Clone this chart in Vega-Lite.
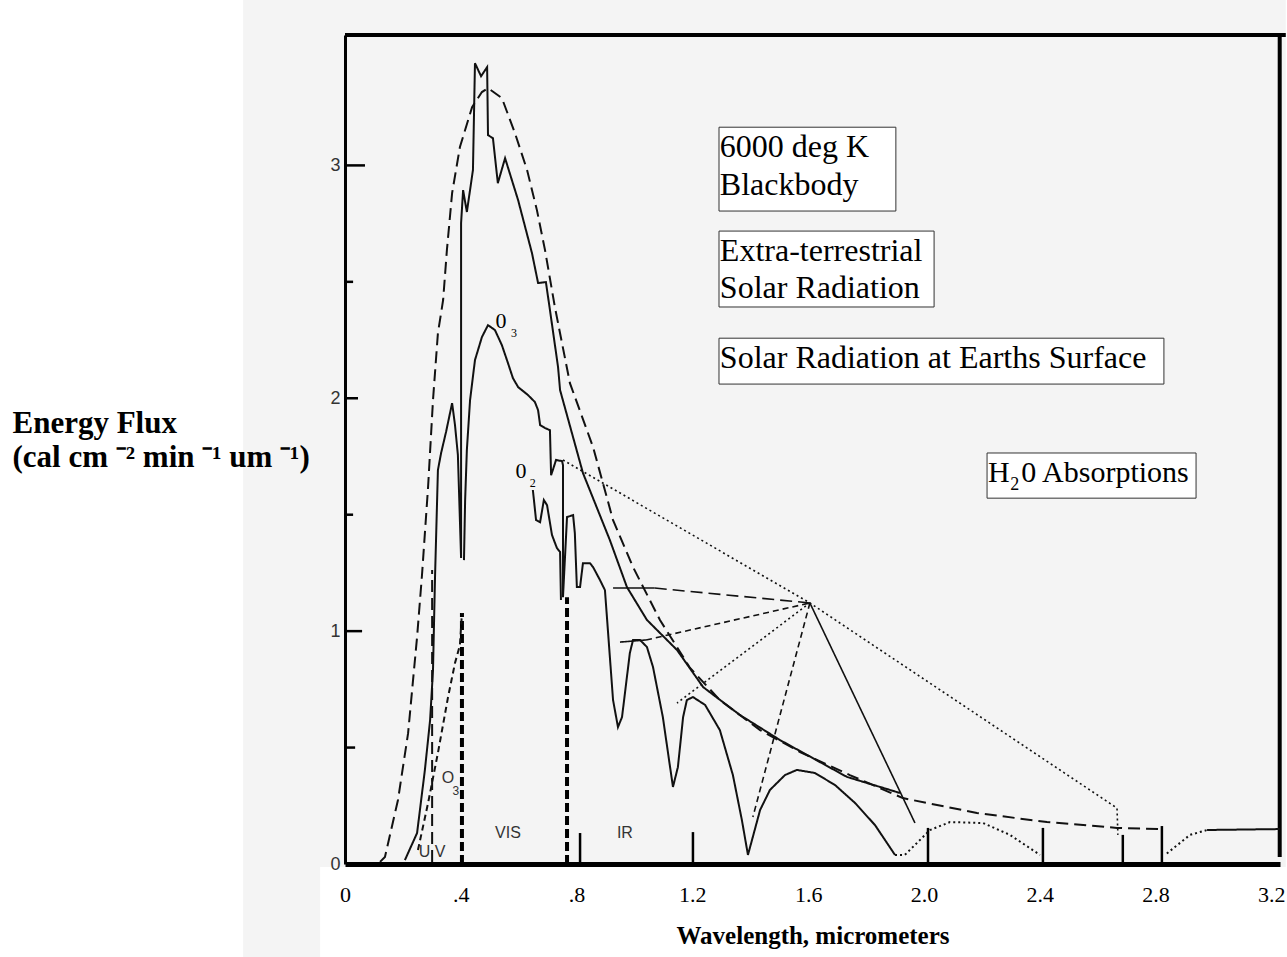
{
  "$schema": "https://vega.github.io/schema/vega-lite/v6.json",
  "width": 935,
  "height": 829,
  "autosize": {"type": "none"},
  "padding": {"left": 345, "top": 35, "right": 7, "bottom": 93},
  "background": "white",
  "config": {"view": {"stroke": null}, "font": "Liberation Serif"},
  "datasets": {
    "paper": [
      {"x": -0.352, "x2": 3.25, "y": -0.013, "y2": 3.71},
      {"x": -0.352, "x2": -0.086, "y": -0.41, "y2": -0.013}
    ],
    "frame": [
      {"x": 0, "x2": 3.25, "y": 3.56, "y2": 3.56},
      {"x": 3.229, "x2": 3.229, "y": 0.03, "y2": 3.56}
    ],
    "yticks": [
      {"x": 0, "y": 0.5, "x2": 0.035, "y2": 0.5}, {"x": 0, "y": 1, "x2": 0.059, "y2": 1}, {"x": 0, "y": 1.5, "x2": 0.028, "y2": 1.5},
      {"x": 0, "y": 2, "x2": 0.045, "y2": 2}, {"x": 0, "y": 2.5, "x2": 0.028, "y2": 2.5}, {"x": 0, "y": 3, "x2": 0.069, "y2": 3},
      {"x": 0.812, "y": 0, "x2": 0.812, "y2": 0.133}, {"x": 1.202, "y": 0, "x2": 1.202, "y2": 0.137}, {"x": 2.014, "y": 0, "x2": 2.014, "y2": 0.155},
      {"x": 2.411, "y": 0, "x2": 2.411, "y2": 0.155}, {"x": 2.687, "y": 0, "x2": 2.687, "y2": 0.125}, {"x": 2.822, "y": 0, "x2": 2.822, "y2": 0.163}
    ],
    "bounds": [
      {"x": 0.404, "y": 0, "x2": 0.404, "y2": 1.078},
      {"x": 0.767, "y": 0, "x2": 0.767, "y2": 1.146}
    ],
    "curves": [
      {"s": "bb", "d": "longdash", "x": 0.121, "y": 0.009},
      {"s": "bb", "d": "longdash", "x": 0.138, "y": 0.030},
      {"s": "bb", "d": "longdash", "x": 0.183, "y": 0.275},
      {"s": "bb", "d": "longdash", "x": 0.218, "y": 0.562},
      {"s": "bb", "d": "longdash", "x": 0.249, "y": 0.975},
      {"s": "bb", "d": "longdash", "x": 0.266, "y": 1.241},
      {"s": "bb", "d": "longdash", "x": 0.287, "y": 1.619},
      {"s": "bb", "d": "longdash", "x": 0.304, "y": 1.992},
      {"s": "bb", "d": "longdash", "x": 0.321, "y": 2.280},
      {"s": "bb", "d": "longdash", "x": 0.339, "y": 2.422},
      {"s": "bb", "d": "longdash", "x": 0.352, "y": 2.636},
      {"s": "bb", "d": "longdash", "x": 0.370, "y": 2.881},
      {"s": "bb", "d": "longdash", "x": 0.397, "y": 3.079},
      {"s": "bb", "d": "longdash", "x": 0.439, "y": 3.250},
      {"s": "bb", "d": "longdash", "x": 0.473, "y": 3.315},
      {"s": "bb", "d": "longdash", "x": 0.494, "y": 3.332},
      {"s": "bb", "d": "longdash", "x": 0.542, "y": 3.289},
      {"s": "bb", "d": "longdash", "x": 0.587, "y": 3.139},
      {"s": "bb", "d": "longdash", "x": 0.629, "y": 2.980},
      {"s": "bb", "d": "longdash", "x": 0.663, "y": 2.808},
      {"s": "bb", "d": "longdash", "x": 0.691, "y": 2.636},
      {"s": "bb", "d": "longdash", "x": 0.725, "y": 2.392},
      {"s": "bb", "d": "longdash", "x": 0.777, "y": 2.065},
      {"s": "bb", "d": "longdash", "x": 0.857, "y": 1.790},
      {"s": "bb", "d": "longdash", "x": 0.926, "y": 1.477},
      {"s": "bb", "d": "longdash", "x": 0.995, "y": 1.275},
      {"s": "bb", "d": "longdash", "x": 1.088, "y": 1.048},
      {"s": "bb", "d": "longdash", "x": 1.192, "y": 0.842},
      {"s": "bb", "d": "longdash", "x": 1.295, "y": 0.704},
      {"s": "bb", "d": "longdash", "x": 1.434, "y": 0.575},
      {"s": "bb", "d": "longdash", "x": 1.572, "y": 0.481},
      {"s": "bb", "d": "longdash", "x": 1.744, "y": 0.382},
      {"s": "bb", "d": "longdash", "x": 1.927, "y": 0.283},
      {"s": "bb", "d": "longdash", "x": 2.183, "y": 0.219},
      {"s": "bb", "d": "longdash", "x": 2.425, "y": 0.180},
      {"s": "bb", "d": "longdash", "x": 2.667, "y": 0.155},
      {"s": "bb", "d": "longdash", "x": 2.815, "y": 0.150},

      {"s": "et", "d": "solid", "x": 0.207, "y": 0.017},
      {"s": "et", "d": "solid", "x": 0.249, "y": 0.133},
      {"s": "et", "d": "solid", "x": 0.276, "y": 0.404},
      {"s": "et", "d": "solid", "x": 0.294, "y": 0.618},
      {"s": "et", "d": "solid", "x": 0.304, "y": 0.833},
      {"s": "et", "d": "solid", "x": 0.311, "y": 1.232},
      {"s": "et", "d": "solid", "x": 0.321, "y": 1.692},
      {"s": "et", "d": "solid", "x": 0.332, "y": 1.765},
      {"s": "et", "d": "solid", "x": 0.349, "y": 1.855},
      {"s": "et", "d": "solid", "x": 0.370, "y": 1.979},
      {"s": "et", "d": "solid", "x": 0.380, "y": 1.885},
      {"s": "et", "d": "solid", "x": 0.390, "y": 1.756},
      {"s": "et", "d": "solid", "x": 0.401, "y": 1.314},
      {"s": "et", "d": "solid", "x": 0.401, "y": 2.752},
      {"s": "et", "d": "solid", "x": 0.408, "y": 2.894},
      {"s": "et", "d": "solid", "x": 0.421, "y": 2.800},
      {"s": "et", "d": "solid", "x": 0.442, "y": 2.980},
      {"s": "et", "d": "solid", "x": 0.449, "y": 3.439},
      {"s": "et", "d": "solid", "x": 0.470, "y": 3.383},
      {"s": "et", "d": "solid", "x": 0.491, "y": 3.422},
      {"s": "et", "d": "solid", "x": 0.494, "y": 3.130},
      {"s": "et", "d": "solid", "x": 0.511, "y": 3.117},
      {"s": "et", "d": "solid", "x": 0.528, "y": 2.924},
      {"s": "et", "d": "solid", "x": 0.553, "y": 3.031},
      {"s": "et", "d": "solid", "x": 0.598, "y": 2.851},
      {"s": "et", "d": "solid", "x": 0.646, "y": 2.623},
      {"s": "et", "d": "solid", "x": 0.667, "y": 2.495},
      {"s": "et", "d": "solid", "x": 0.694, "y": 2.499},
      {"s": "et", "d": "solid", "x": 0.708, "y": 2.379},
      {"s": "et", "d": "solid", "x": 0.736, "y": 2.134},
      {"s": "et", "d": "solid", "x": 0.743, "y": 2.035},
      {"s": "et", "d": "solid", "x": 0.822, "y": 1.679},
      {"s": "et", "d": "solid", "x": 0.915, "y": 1.391},
      {"s": "et", "d": "solid", "x": 0.974, "y": 1.189},
      {"s": "et", "d": "solid", "x": 1.043, "y": 1.048},
      {"s": "et", "d": "solid", "x": 1.147, "y": 0.919},
      {"s": "et", "d": "solid", "x": 1.237, "y": 0.760},
      {"s": "et", "d": "solid", "x": 1.364, "y": 0.640},
      {"s": "et", "d": "solid", "x": 1.503, "y": 0.532},
      {"s": "et", "d": "solid", "x": 1.734, "y": 0.374},
      {"s": "et", "d": "solid", "x": 1.917, "y": 0.305},

      {"s": "uvline", "d": "longdash", "x": 0.301, "y": 0.009},
      {"s": "uvline", "d": "longdash", "x": 0.301, "y": 1.262},

      {"s": "surfuv", "d": "dash", "x": 0.252, "y": 0.060},
      {"s": "surfuv", "d": "dash", "x": 0.287, "y": 0.262},
      {"s": "surfuv", "d": "dash", "x": 0.321, "y": 0.477},
      {"s": "surfuv", "d": "dash", "x": 0.356, "y": 0.717},
      {"s": "surfuv", "d": "dash", "x": 0.380, "y": 0.863},
      {"s": "surfuv", "d": "dash", "x": 0.397, "y": 0.940},
      {"s": "surfuv", "d": "dash", "x": 0.404, "y": 1.078},

      {"s": "surf", "d": "solid", "x": 0.411, "y": 1.305},
      {"s": "surf", "d": "solid", "x": 0.415, "y": 1.563},
      {"s": "surf", "d": "solid", "x": 0.421, "y": 1.778},
      {"s": "surf", "d": "solid", "x": 0.432, "y": 1.992},
      {"s": "surf", "d": "solid", "x": 0.449, "y": 2.164},
      {"s": "surf", "d": "solid", "x": 0.473, "y": 2.263},
      {"s": "surf", "d": "solid", "x": 0.494, "y": 2.314},
      {"s": "surf", "d": "solid", "x": 0.518, "y": 2.293},
      {"s": "surf", "d": "solid", "x": 0.542, "y": 2.228},
      {"s": "surf", "d": "solid", "x": 0.563, "y": 2.151},
      {"s": "surf", "d": "solid", "x": 0.580, "y": 2.087},
      {"s": "surf", "d": "solid", "x": 0.598, "y": 2.048},
      {"s": "surf", "d": "solid", "x": 0.632, "y": 2.014},
      {"s": "surf", "d": "solid", "x": 0.656, "y": 1.984},
      {"s": "surf", "d": "solid", "x": 0.667, "y": 1.949},
      {"s": "surf", "d": "solid", "x": 0.674, "y": 1.885},
      {"s": "surf", "d": "solid", "x": 0.691, "y": 1.872},
      {"s": "surf", "d": "solid", "x": 0.708, "y": 1.863},
      {"s": "surf", "d": "solid", "x": 0.712, "y": 1.670},
      {"s": "surf", "d": "solid", "x": 0.718, "y": 1.692},
      {"s": "surf", "d": "solid", "x": 0.729, "y": 1.735},
      {"s": "surf", "d": "solid", "x": 0.750, "y": 1.730},
      {"s": "surf", "d": "solid", "x": 0.753, "y": 1.713},
      {"s": "surf", "d": "solid", "x": 0.753, "y": 1.146},
      {"s": "surf", "d": "solid", "x": 0.767, "y": 1.490},
      {"s": "surf", "d": "solid", "x": 0.788, "y": 1.498},
      {"s": "surf", "d": "solid", "x": 0.794, "y": 1.421},
      {"s": "surf", "d": "solid", "x": 0.801, "y": 1.189},
      {"s": "surf", "d": "solid", "x": 0.812, "y": 1.189},
      {"s": "surf", "d": "solid", "x": 0.822, "y": 1.292},
      {"s": "surf", "d": "solid", "x": 0.846, "y": 1.292},
      {"s": "surf", "d": "solid", "x": 0.857, "y": 1.275},
      {"s": "surf", "d": "solid", "x": 0.881, "y": 1.219},
      {"s": "surf", "d": "solid", "x": 0.898, "y": 1.176},
      {"s": "surf", "d": "solid", "x": 0.926, "y": 0.704},
      {"s": "surf", "d": "solid", "x": 0.943, "y": 0.588},
      {"s": "surf", "d": "solid", "x": 0.957, "y": 0.631},
      {"s": "surf", "d": "solid", "x": 0.984, "y": 0.906},
      {"s": "surf", "d": "solid", "x": 0.995, "y": 0.962},
      {"s": "surf", "d": "solid", "x": 1.019, "y": 0.962},
      {"s": "surf", "d": "solid", "x": 1.043, "y": 0.932},
      {"s": "surf", "d": "solid", "x": 1.064, "y": 0.846},
      {"s": "surf", "d": "solid", "x": 1.098, "y": 0.631},
      {"s": "surf", "d": "solid", "x": 1.123, "y": 0.416},
      {"s": "surf", "d": "solid", "x": 1.133, "y": 0.331},
      {"s": "surf", "d": "solid", "x": 1.150, "y": 0.416},
      {"s": "surf", "d": "solid", "x": 1.168, "y": 0.631},
      {"s": "surf", "d": "solid", "x": 1.181, "y": 0.704},
      {"s": "surf", "d": "solid", "x": 1.202, "y": 0.717},
      {"s": "surf", "d": "solid", "x": 1.244, "y": 0.683},
      {"s": "surf", "d": "solid", "x": 1.295, "y": 0.575},
      {"s": "surf", "d": "solid", "x": 1.340, "y": 0.382},
      {"s": "surf", "d": "solid", "x": 1.371, "y": 0.189},
      {"s": "surf", "d": "solid", "x": 1.392, "y": 0.039},
      {"s": "surf", "d": "solid", "x": 1.406, "y": 0.103},
      {"s": "surf", "d": "solid", "x": 1.434, "y": 0.232},
      {"s": "surf", "d": "solid", "x": 1.468, "y": 0.318},
      {"s": "surf", "d": "solid", "x": 1.520, "y": 0.382},
      {"s": "surf", "d": "solid", "x": 1.561, "y": 0.404},
      {"s": "surf", "d": "solid", "x": 1.623, "y": 0.391},
      {"s": "surf", "d": "solid", "x": 1.693, "y": 0.339},
      {"s": "surf", "d": "solid", "x": 1.762, "y": 0.262},
      {"s": "surf", "d": "solid", "x": 1.831, "y": 0.167},
      {"s": "surf", "d": "solid", "x": 1.900, "y": 0.039},

      {"s": "hump2", "d": "dot", "x": 1.900, "y": 0.039},
      {"s": "hump2", "d": "dot", "x": 1.934, "y": 0.039},
      {"s": "hump2", "d": "dot", "x": 1.969, "y": 0.082},
      {"s": "hump2", "d": "dot", "x": 2.021, "y": 0.146},
      {"s": "hump2", "d": "dot", "x": 2.090, "y": 0.180},
      {"s": "hump2", "d": "dot", "x": 2.204, "y": 0.176},
      {"s": "hump2", "d": "dot", "x": 2.297, "y": 0.125},
      {"s": "hump2", "d": "dot", "x": 2.401, "y": 0.039},

      {"s": "rise", "d": "dot", "x": 2.839, "y": 0.045},
      {"s": "rise", "d": "dot", "x": 2.919, "y": 0.125},
      {"s": "rise", "d": "dot", "x": 2.978, "y": 0.146},

      {"s": "tail", "d": "solid", "x": 2.978, "y": 0.146},
      {"s": "tail", "d": "solid", "x": 3.229, "y": 0.150},

      {"s": "jag", "d": "solid", "x": 0.649, "y": 1.606},
      {"s": "jag", "d": "solid", "x": 0.660, "y": 1.477},
      {"s": "jag", "d": "solid", "x": 0.674, "y": 1.468},
      {"s": "jag", "d": "solid", "x": 0.687, "y": 1.563},
      {"s": "jag", "d": "solid", "x": 0.698, "y": 1.541},
      {"s": "jag", "d": "solid", "x": 0.715, "y": 1.413},
      {"s": "jag", "d": "solid", "x": 0.732, "y": 1.357},
      {"s": "jag", "d": "solid", "x": 0.743, "y": 1.340},
      {"s": "jag", "d": "solid", "x": 0.746, "y": 1.134}
    ],
    "pointers": [
      {"s": "p1", "d": "dot", "x": 0.753, "y": 1.735},
      {"s": "p1", "d": "dot", "x": 1.606, "y": 1.121},
      {"s": "p1", "d": "dot", "x": 2.667, "y": 0.240},
      {"s": "p1", "d": "dot", "x": 2.670, "y": 0.125},
      {"s": "p2", "d": "longdash", "x": 1.070, "y": 1.185},
      {"s": "p2", "d": "longdash", "x": 1.606, "y": 1.121},
      {"s": "b2", "d": "solid", "x": 0.926, "y": 1.185},
      {"s": "b2", "d": "solid", "x": 1.070, "y": 1.185},
      {"s": "p3", "d": "dash", "x": 1.040, "y": 0.962},
      {"s": "p3", "d": "dash", "x": 1.606, "y": 1.121},
      {"s": "b3", "d": "solid", "x": 0.950, "y": 0.953},
      {"s": "b3", "d": "solid", "x": 1.040, "y": 0.962},
      {"s": "p4", "d": "dot", "x": 1.606, "y": 1.121},
      {"s": "p4", "d": "dot", "x": 1.147, "y": 0.691},
      {"s": "p5", "d": "dash", "x": 1.606, "y": 1.121},
      {"s": "p5", "d": "dash", "x": 1.409, "y": 0.202},
      {"s": "p6", "d": "solid", "x": 1.606, "y": 1.121},
      {"s": "p6", "d": "solid", "x": 1.969, "y": 0.176}
    ],
    "boxes": [
      {"x": 1.292, "x2": 1.903, "y": 3.164, "y2": 2.804},
      {"x": 1.292, "x2": 2.035, "y": 2.718, "y2": 2.392},
      {"x": 1.292, "x2": 2.829, "y": 2.258, "y2": 2.061},
      {"x": 2.218, "x2": 2.940, "y": 1.765, "y2": 1.571}
    ],
    "legendText": [
      {"t": "6000 deg K", "x": 1.295, "y": 3.036},
      {"t": "Blackbody", "x": 1.295, "y": 2.872},
      {"t": "Extra-terrestrial", "x": 1.295, "y": 2.589},
      {"t": "Solar Radiation", "x": 1.295, "y": 2.430},
      {"t": "Solar Radiation at Earths Surface", "x": 1.295, "y": 2.130}
    ],
    "h2oText": [
      {"t": "H", "x": 2.221, "y": 1.640},
      {"t": "0 Absorptions", "x": 2.336, "y": 1.640}
    ],
    "h2oSub": [
      {"t": "2", "x": 2.298, "y": 1.608}
    ],
    "gasText": [
      {"t": "0", "x": 0.539, "y": 2.301},
      {"t": "0", "x": 0.608, "y": 1.657}
    ],
    "gasSub": [
      {"t": "3", "x": 0.584, "y": 2.263},
      {"t": "2", "x": 0.649, "y": 1.619}
    ],
    "handText": [
      {"t": "VIS", "x": 0.563, "y": 0.112},
      {"t": "IR", "x": 0.967, "y": 0.112},
      {"t": "U V", "x": 0.301, "y": 0.030},
      {"t": "O", "x": 0.356, "y": 0.348}
    ],
    "handSub": [
      {"t": "3", "x": 0.383, "y": 0.296}
    ]
  },
  "encoding": {
    "x": {
      "field": "x", "type": "quantitative",
      "scale": {"domain": [0, 3.23], "nice": false, "zero": false},
      "axis": {
        "values": [0, 0.4, 0.8, 1.2, 1.6, 2.0, 2.4, 2.8, 3.2],
        "labelExpr": "datum.value == 0 ? '0' : datum.value < 1 ? replace(format(datum.value, '.1f'), '0.', '.') : format(datum.value, '.1f')",
        "ticks": false, "grid": false,
        "domainColor": "black", "domainWidth": 5,
        "labelFont": "Liberation Serif", "labelFontSize": 22, "labelColor": "black",
        "labelPadding": 20, "labelFlush": false, "labelOverlap": false,
        "title": "Wavelength, micrometers",
        "titleFont": "Liberation Serif", "titleFontSize": 25, "titleFontWeight": "bold",
        "titleColor": "black", "titlePadding": 18, "zindex": 1
      }
    },
    "y": {
      "field": "y", "type": "quantitative",
      "scale": {"domain": [0, 3.56], "nice": false, "zero": false},
      "axis": {
        "values": [0, 1, 2, 3],
        "ticks": false, "grid": false,
        "domainColor": "black", "domainWidth": 3,
        "labelFont": "Liberation Sans", "labelFontSize": 18, "labelColor": "#333",
        "labelPadding": 5,
        "title": ["Energy Flux", "(cal cm ⁻² min ⁻¹  um ⁻¹)"],
        "titleAngle": 0, "titleAlign": "left", "titleBaseline": "alphabetic",
        "titleX": -333, "titleY": 397,
        "titleFont": "Liberation Serif", "titleFontSize": 31, "titleFontWeight": "bold",
        "titleColor": "black", "titleLineHeight": 34, "zindex": 1
      }
    }
  },
  "layer": [
    {
      "data": {"name": "paper"},
      "mark": {"type": "rect", "color": "#f4f4f4"},
      "encoding": {"x2": {"field": "x2"}, "y2": {"field": "y2"}}
    },
    {
      "data": {"name": "frame"},
      "mark": {"type": "rule", "color": "black", "strokeWidth": 4},
      "encoding": {"x2": {"field": "x2"}, "y2": {"field": "y2"}}
    },
    {
      "data": {"name": "yticks"},
      "mark": {"type": "rule", "color": "black", "strokeWidth": 2.5},
      "encoding": {"x2": {"field": "x2"}, "y2": {"field": "y2"}}
    },
    {
      "data": {"name": "bounds"},
      "mark": {"type": "rule", "color": "black", "strokeWidth": 4, "strokeDash": [9, 4]},
      "encoding": {"x2": {"field": "x2"}, "y2": {"field": "y2"}}
    },
    {
      "data": {"name": "curves"},
      "mark": {"type": "line", "strokeWidth": 2, "color": "#111", "strokeCap": "butt"},
      "encoding": {
        "detail": {"field": "s", "type": "nominal"},
        "order": {"value": null},
        "strokeDash": {
          "field": "d", "type": "nominal",
          "scale": {"domain": ["solid", "longdash", "dash", "dot"], "range": [[1, 0], [12, 6], [6, 4], [2, 3]]},
          "legend": null
        }
      }
    },
    {
      "data": {"name": "pointers"},
      "mark": {"type": "line", "strokeWidth": 1.6, "color": "#111", "strokeCap": "butt"},
      "encoding": {
        "detail": {"field": "s", "type": "nominal"},
        "order": {"value": null},
        "strokeDash": {
          "field": "d", "type": "nominal",
          "scale": {"domain": ["solid", "longdash", "dash", "dot"], "range": [[1, 0], [12, 6], [6, 4], [2, 3]]},
          "legend": null
        }
      }
    },
    {
      "data": {"name": "boxes"},
      "mark": {"type": "rect", "fill": "white", "stroke": "#333", "strokeWidth": 1},
      "encoding": {"x2": {"field": "x2"}, "y2": {"field": "y2"}}
    },
    {
      "data": {"name": "legendText"},
      "mark": {"type": "text", "font": "Liberation Serif", "fontSize": 32, "align": "left", "baseline": "alphabetic", "color": "black"},
      "encoding": {"text": {"field": "t", "type": "nominal"}}
    },
    {
      "data": {"name": "h2oText"},
      "mark": {"type": "text", "font": "Liberation Serif", "fontSize": 30, "align": "left", "baseline": "alphabetic", "color": "black"},
      "encoding": {"text": {"field": "t", "type": "nominal"}}
    },
    {
      "data": {"name": "h2oSub"},
      "mark": {"type": "text", "font": "Liberation Serif", "fontSize": 18, "align": "left", "baseline": "alphabetic", "color": "black"},
      "encoding": {"text": {"field": "t", "type": "nominal"}}
    },
    {
      "data": {"name": "gasText"},
      "mark": {"type": "text", "font": "Liberation Serif", "fontSize": 22, "align": "center", "baseline": "alphabetic", "color": "black"},
      "encoding": {"text": {"field": "t", "type": "nominal"}}
    },
    {
      "data": {"name": "gasSub"},
      "mark": {"type": "text", "font": "Liberation Serif", "fontSize": 12, "align": "center", "baseline": "alphabetic", "color": "black"},
      "encoding": {"text": {"field": "t", "type": "nominal"}}
    },
    {
      "data": {"name": "handText"},
      "mark": {"type": "text", "font": "Liberation Sans", "fontSize": 16, "align": "center", "baseline": "alphabetic", "color": "#333"},
      "encoding": {"text": {"field": "t", "type": "nominal"}}
    },
    {
      "data": {"name": "handSub"},
      "mark": {"type": "text", "font": "Liberation Sans", "fontSize": 12, "align": "center", "baseline": "alphabetic", "color": "#333"},
      "encoding": {"text": {"field": "t", "type": "nominal"}}
    }
  ]
}
